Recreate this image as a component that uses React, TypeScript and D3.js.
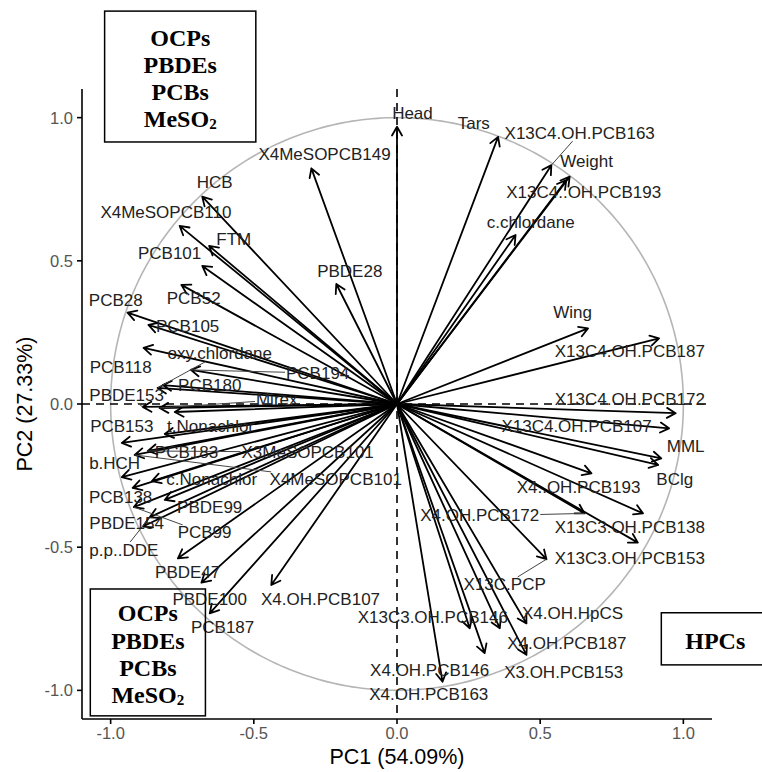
import React from "react";
import * as d3 from "d3";

// ---------- data ----------
const varNames = [
  "Head", "Tars", "X13C4.OH.PCB163", "Weight", "X13C4..OH.PCB193", "c.chlordane",
  "Wing", "X13C4.OH.PCB187", "X13C4.OH.PCB172", "X13C4.OH.PCB107", "MML", "BClg",
  "X4..OH.PCB193", "X4.OH.PCB172", "X13C3.OH.PCB138", "X13C3.OH.PCB153", "X13C.PCP",
  "X4.OH.HpCS", "X4.OH.PCB187", "X13C3.OH.PCB146", "X4.OH.PCB146", "X3.OH.PCB153",
  "X4.OH.PCB163", "X4.OH.PCB107", "PCB187", "PBDE100", "PBDE47", "PBDE154", "p.p..DDE",
  "PCB99", "PBDE99", "PCB138", "c.Nonachlor", "b.HCH", "X4MeSOPCB101", "X3MeSOPCB101",
  "PCB183", "PCB153", "t.Nonachlor", "Mirex", "PBDE153", "PCB180", "oxy.chlordane",
  "PCB118", "PCB194", "PCB105", "PCB28", "PCB52", "PBDE28", "PCB101", "FTM",
  "X4MeSOPCB110", "HCB", "X4MeSOPCB149",
];
const pc1 = [
  0.0, 0.353, 0.539, 0.603, 0.591, 0.414,
  0.667, 0.915, 0.973, 0.95, 0.923, 0.912,
  0.679, 0.655, 0.859, 0.841, 0.522,
  0.452, 0.359, 0.254, 0.306, 0.452,
  0.159, -0.439, -0.654, -0.683, -0.765, -0.887, -0.863,
  -0.919, -0.811, -0.923, -0.856, -0.961, -0.916, -0.87,
  -0.811, -0.961, -0.776, -0.829, -0.888, -0.818, -0.836,
  -0.885, -0.72, -0.868, -0.941, -0.753, -0.212, -0.68, -0.656,
  -0.759, -0.68, -0.299,
];
const pc2 = [
  0.968, 0.933, 0.834, 0.794, 0.782, 0.59,
  0.264, 0.229, -0.032, -0.085, -0.19, -0.213,
  -0.242, -0.382, -0.382, -0.484, -0.542,
  -0.766, -0.783, -0.783, -0.87, -0.876,
  -0.97, -0.632, -0.731, -0.624, -0.539, -0.428, -0.395,
  -0.36, -0.335, -0.293, -0.269, -0.255, -0.178, -0.164,
  -0.105, -0.136, -0.028, -0.014, -0.01, 0.066, 0.056,
  0.196, 0.119, 0.276, 0.319, 0.416, 0.419, 0.482, 0.552,
  0.622, 0.724, 0.823,
];
// repelled label positions (PC units)
const labelPC1 = [
  0.054, 0.268, 0.638, 0.662, 0.652, 0.467,
  0.613, 0.813, 0.813, 0.627, 1.008, 0.97,
  0.634, 0.289, 0.813, 0.813, 0.376,
  0.613, 0.593, 0.125, 0.114, 0.582,
  0.111, -0.267, -0.609, -0.654, -0.731, -0.944, -0.954,
  -0.672, -0.654, -0.965, -0.647, -0.986, -0.214, -0.312,
  -0.735, -0.961, -0.651, -0.42, -0.944, -0.654, -0.619,
  -0.965, -0.277, -0.731, -0.982, -0.71, -0.165, -0.794, -0.57,
  -0.807, -0.637, -0.253,
];
const labelPC2 = [
  1.016, 0.978, 0.946, 0.848, 0.737, 0.635,
  0.318, 0.182, 0.017, -0.077, -0.15, -0.265,
  -0.293, -0.391, -0.433, -0.538, -0.632,
  -0.73, -0.838, -0.744, -0.929, -0.936,
  -1.016, -0.681, -0.782, -0.681, -0.587, -0.416, -0.51,
  -0.45, -0.36, -0.325, -0.265, -0.209, -0.265, -0.168,
  -0.168, -0.08, -0.08, 0.014, 0.031, 0.066, 0.175,
  0.129, 0.108, 0.269, 0.363, 0.37, 0.464, 0.524, 0.573,
  0.667, 0.772, 0.873,
];
const leaderVars = [
  "X13C4.OH.PCB163", "PCB194", "oxy.chlordane", "PBDE153", "Mirex", "X3MeSOPCB101",
  "X4MeSOPCB101", "PCB99", "p.p..DDE", "X4.OH.PCB172", "X13C.PCP",
];

const tickValues = [-1, -0.5, 0, 0.5, 1];
const tickLabels = ["-1.0", "-0.5", "0.0", "0.5", "1.0"];
const xTitle = "PC1 (54.09%)";
const yTitle = "PC2 (27.33%)";

const groupLinesA = ["OCPs", "PBDEs", "PCBs", "MeSO"];
const groupLinesB = ["HPCs"];
// annotation boxes in PC units: [x0, x1, yTop, yBottom]
const boxTopLeft = [-1.021, -0.493, 1.372, 0.915];
const boxBottomLeft = [-1.071, -0.669, -0.646, -1.089];
const boxRight = [0.923, 1.3, -0.729, -0.911];

// ---------- layout ----------
const W = 762;
const H = 772;
const PL = 82;
const PT = 89;
const PS = 630;
const LABEL_FONT = 17;
const SANS = "'Liberation Sans', Arial, Helvetica, sans-serif";
const SERIF = "'Liberation Serif', 'Times New Roman', serif";

let ctx: CanvasRenderingContext2D | null = null;
function textWidth(t: string, font: string) {
  if (!ctx) ctx = document.createElement("canvas").getContext("2d");
  if (!ctx) return t.length * 9;
  ctx.font = font;
  return ctx.measureText(t).width;
}

export default function App() {
  const x = d3.scaleLinear().domain([-1.1, 1.1]).range([PL, PL + PS]);
  const y = d3.scaleLinear().domain([-1.1, 1.1]).range([PT + PS, PT]);
  const x0 = x(0);
  const y0 = y(0);

  const circle = d3.line<number>()
    .x((a) => x(Math.cos(a)))
    .y((a) => y(Math.sin(a)))(d3.range(0, 361).map((d) => (d * Math.PI) / 180));

  const arrows = varNames.map((name, i) => {
    const tx = x(pc1[i]);
    const ty = y(pc2[i]);
    const ang = Math.atan2(ty - y0, tx - x0);
    const L = 10;
    const th = Math.PI / 6;
    const h1 = [tx - L * Math.cos(ang - th), ty - L * Math.sin(ang - th)];
    const h2 = [tx - L * Math.cos(ang + th), ty - L * Math.sin(ang + th)];
    const d = `M${x0},${y0}L${tx},${ty}M${h1[0]},${h1[1]}L${tx},${ty}L${h2[0]},${h2[1]}`;
    return { name, d, tx, ty };
  });

  const labels = varNames.map((name, i) => {
    const lx = x(labelPC1[i]);
    const ly = y(labelPC2[i]);
    let seg: string | null = null;
    if (leaderVars.includes(name)) {
      const w = textWidth(name, `${LABEL_FONT}px ${SANS}`);
      const tx = x(pc1[i]);
      const ty = y(pc2[i]);
      const dx = tx - lx;
      const dy = ty - ly;
      const hw = w / 2 + 1;
      const hh = 8;
      const t = Math.min(dx !== 0 ? hw / Math.abs(dx) : Infinity, dy !== 0 ? hh / Math.abs(dy) : Infinity);
      if (t < 1) seg = `M${lx + dx * t},${ly + dy * t}L${tx},${ty}`;
    }
    return { name, lx, ly, seg };
  });

  const box = (b: number[], lines: string[], key: string, sub: boolean) => {
    const bx0 = x(b[0]);
    const bx1 = x(b[1]);
    const by0 = y(b[2]);
    const by1 = y(b[3]);
    const cx = (bx0 + bx1) / 2;
    const lh = 27.3;
    const total = lh * (lines.length - 1);
    const cy = (by0 + by1) / 2 - total / 2 + 2;
    return (
      <g key={key}>
        <rect x={bx0} y={by0} width={bx1 - bx0} height={by1 - by0} fill="none" stroke="black" strokeWidth={1.5} />
        {lines.map((t, j) => (
          <text key={t} x={cx} y={cy + j * lh} textAnchor="middle" dominantBaseline="central"
            fontFamily={SERIF} fontWeight="bold" fontSize={24} fill="black">
            {t}
            {sub && t === "MeSO" ? <tspan fontSize={15} dy={5}>2</tspan> : null}
          </text>
        ))}
      </g>
    );
  };

  return (
    <svg width={W} height={H} viewBox={`0 0 ${W} ${H}`}
      style={{ position: "absolute", left: 0, top: 0, background: "white" }}>
      <rect x={0} y={0} width={W} height={H} fill="white" />
      {/* unit circle */}
      <path d={circle || ""} fill="none" stroke="#b5b5b5" strokeWidth={1.6} />
      {/* reference lines */}
      <line x1={x0} x2={x0} y1={PT} y2={PT + PS} stroke="black" strokeWidth={1.6} strokeDasharray="8,6" />
      <line x1={PL} x2={PL + PS} y1={y0} y2={y0} stroke="black" strokeWidth={1.6} strokeDasharray="8,6" />
      {/* arrows */}
      {arrows.map((a) => (
        <path key={a.name} d={a.d} fill="none" stroke="black" strokeWidth={1.8} strokeLinecap="round" strokeLinejoin="round" />
      ))}
      {/* leader segments */}
      {labels.map((l) => l.seg ? <path key={"s" + l.name} d={l.seg} stroke="#444" strokeWidth={1} fill="none" /> : null)}
      {/* labels */}
      {labels.map((l) => (
        <text key={"t" + l.name} x={l.lx} y={l.ly} textAnchor="middle" dominantBaseline="central"
          fontFamily={SANS} fontSize={LABEL_FONT} fill="#222">
          {l.name}
        </text>
      ))}
      {/* axes */}
      <line x1={PL} x2={PL} y1={PT} y2={PT + PS} stroke="black" strokeWidth={1.6} />
      <line x1={PL} x2={PL + PS} y1={PT + PS} y2={PT + PS} stroke="black" strokeWidth={1.6} />
      {tickValues.map((v, i) => (
        <g key={"x" + v}>
          <line x1={x(v)} x2={x(v)} y1={PT + PS} y2={PT + PS + 5} stroke="black" strokeWidth={1.6} />
          <text x={x(v)} y={PT + PS + 14} textAnchor="middle" dominantBaseline="central"
            fontFamily={SANS} fontSize={16.5} fill="#555">{tickLabels[i]}</text>
        </g>
      ))}
      {tickValues.map((v, i) => (
        <g key={"y" + v}>
          <line x1={PL - 5} x2={PL} y1={y(v)} y2={y(v)} stroke="black" strokeWidth={1.6} />
          <text x={PL - 9} y={y(v)} textAnchor="end" dominantBaseline="central"
            fontFamily={SANS} fontSize={16.5} fill="#555">{tickLabels[i]}</text>
        </g>
      ))}
      <text x={x(0)} y={757} textAnchor="middle" dominantBaseline="central" fontFamily={SANS} fontSize={21.5} fill="black">{xTitle}</text>
      <text transform={`translate(25,${y(0)}) rotate(-90)`} textAnchor="middle" dominantBaseline="central"
        fontFamily={SANS} fontSize={21.5} fill="black">{yTitle}</text>
      {/* annotation boxes */}
      {box(boxTopLeft, groupLinesA, "b1", true)}
      {box(boxBottomLeft, groupLinesA, "b2", true)}
      {box(boxRight, groupLinesB, "b3", false)}
    </svg>
  );
}
